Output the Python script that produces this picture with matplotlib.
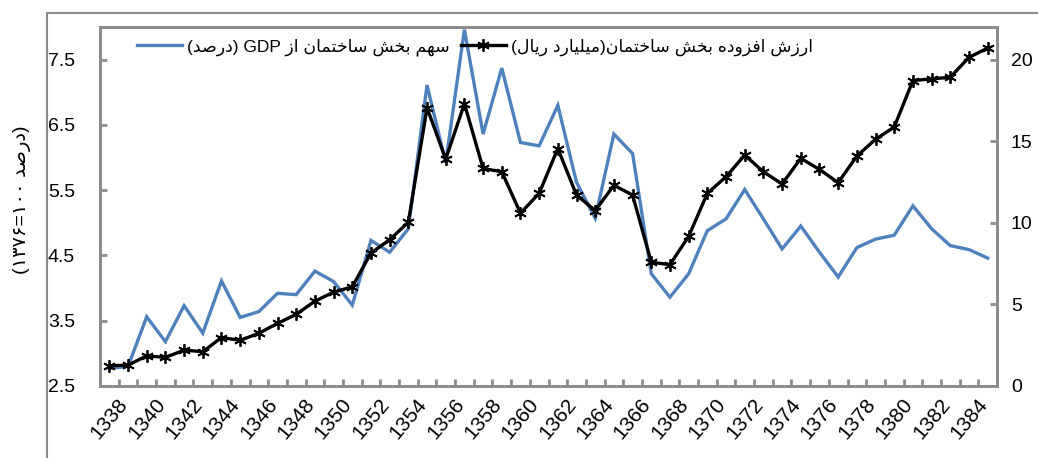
import matplotlib
matplotlib.use("Agg")
import matplotlib.pyplot as plt
from matplotlib.lines import Line2D

# ---------------- data ----------------
years = list(range(1338, 1386))
gdp_share = [2.77, 2.80, 3.56, 3.18, 3.73, 3.31, 4.11, 3.55, 3.64, 3.92,
             3.90, 4.26, 4.10, 3.74, 4.73, 4.55, 4.91, 7.11, 5.92, 7.96,
             6.36, 7.37, 6.23, 6.18, 6.80, 5.62, 5.07, 6.36, 6.06, 4.22,
             3.86, 4.22, 4.88, 5.06, 5.51, 5.06, 4.60, 4.95, 4.55, 4.17,
             4.62, 4.75, 4.81, 5.26, 4.91, 4.65, 4.59, 4.46]
value_added = [1.24, 1.28, 1.85, 1.75, 2.20, 2.10, 2.97, 2.80, 3.23, 3.84,
               4.39, 5.20, 5.75, 6.08, 8.15, 8.96, 10.04, 17.05, 13.90, 17.30,
               13.33, 13.13, 10.59, 11.81, 14.55, 11.70, 10.75, 12.30, 11.70, 7.58,
               7.44, 9.17, 11.81, 12.82, 14.15, 13.13, 12.38, 13.95, 13.27, 12.46,
               14.09, 15.12, 15.87, 18.72, 18.82, 18.92, 20.14, 20.71]
x_labels = [str(y) for y in years[::2]]
left_ticks = [2.5, 3.5, 4.5, 5.5, 6.5, 7.5]
right_ticks = [0, 5, 10, 15, 20]

label_share = "سهم بخش ساختمان از GDP (درصد)"
label_value = "ارزش افزوده بخش ساختمان(میلیارد ریال)"
label_y = "(درصد ۱۰۰=۱۳۷۶)"

# ------------- minimal Persian shaping + visual ordering -------------
FORMS = {  # isolated, final, initial, medial
    'ا': ('\uFE8D', '\uFE8E', None, None),
    'ب': ('\uFE8F', '\uFE90', '\uFE91', '\uFE92'),
    'ت': ('\uFE95', '\uFE96', '\uFE97', '\uFE98'),
    'خ': ('\uFEA5', '\uFEA6', '\uFEA7', '\uFEA8'),
    'د': ('\uFEA9', '\uFEAA', None, None),
    'ر': ('\uFEAD', '\uFEAE', None, None),
    'ز': ('\uFEAF', '\uFEB0', None, None),
    'س': ('\uFEB1', '\uFEB2', '\uFEB3', '\uFEB4'),
    'ش': ('\uFEB5', '\uFEB6', '\uFEB7', '\uFEB8'),
    'ص': ('\uFEB9', '\uFEBA', '\uFEBB', '\uFEBC'),
    'ف': ('\uFED1', '\uFED2', '\uFED3', '\uFED4'),
    'ل': ('\uFEDD', '\uFEDE', '\uFEDF', '\uFEE0'),
    'م': ('\uFEE1', '\uFEE2', '\uFEE3', '\uFEE4'),
    'ن': ('\uFEE5', '\uFEE6', '\uFEE7', '\uFEE8'),
    'ه': ('\uFEE9', '\uFEEA', '\uFEEB', '\uFEEC'),
    'و': ('\uFEED', '\uFEEE', None, None),
    'ی': ('\uFEEF', '\uFEF0', '\uFEF3', '\uFEF4'),
}


def dual(c):
    return c in FORMS and FORMS[c][2] is not None


def shape(text):
    out = []
    for i, c in enumerate(text):
        if c not in FORMS:
            out.append(c)
            continue
        prev = text[i - 1] if i > 0 else ''
        nxt = text[i + 1] if i + 1 < len(text) else ''
        jp = dual(prev)
        jn = dual(c) and nxt in FORMS
        iso, fin, ini, med = FORMS[c]
        if jp and jn:
            out.append(med)
        elif jp:
            out.append(fin)
        elif jn:
            out.append(ini)
        else:
            out.append(iso)
    return ''.join(out)


def visual(text):
    s = shape(text)
    tokens = []
    buf = ''
    for c in s:
        ltr = c.isascii() and c.isalnum() or ('\u06F0' <= c <= '\u06F9')
        if ltr:
            buf += c
        else:
            if buf:
                tokens.append(buf)
                buf = ''
            tokens.append(c)
    if buf:
        tokens.append(buf)
    mirror = {'(': ')', ')': '('}
    return ''.join(mirror.get(t, t) for t in reversed(tokens))


# ---------------- figure ----------------
plt.rcParams['font.family'] = ['Liberation Sans', 'DejaVu Sans']
fig = plt.figure(figsize=(10.38, 4.58), dpi=100)
ax = fig.add_axes([100 / 1038, 1 - 386 / 458, 897 / 1038, 359 / 458])
ax2 = ax.twinx()

xs = list(range(len(years)))
blue = '#4F81BD'
l1, = ax.plot(xs, gdp_share, color=blue, lw=2.4, solid_joinstyle='miter',
              label=visual(label_share))
l2, = ax2.plot(xs, value_added, color='black', lw=2.4, marker=(6, 2, 0),
               ms=9, mew=1.3, mec='black', label=visual(label_value))

ax.set_xlim(-0.5, len(years) - 0.5)
ax.set_ylim(2.5, 8.0)
ax2.set_ylim(0, 22)

grey = '#8C8C8C'
for a in (ax, ax2):
    for sp in a.spines.values():
        sp.set_color(grey)
        sp.set_linewidth(2)

ax.set_xticks(xs[::2])
ax.set_xticklabels(x_labels, rotation=50, ha='center', va='top', fontsize=15)
ax.set_xticks([i - 0.5 for i in range(len(years) + 1)], minor=True)
ax.tick_params(axis='x', which='major', length=0, pad=6)
ax.tick_params(axis='x', which='minor', direction='in', length=5, width=2,
               color=grey)

ax.set_yticks(left_ticks)
ax.set_yticklabels([f"{v:.1f}" for v in left_ticks], fontsize=14)
ax.tick_params(axis='y', direction='in', length=5, width=2, color=grey, pad=18)

ax2.set_yticks(right_ticks)
ax2.set_yticklabels([str(v) for v in right_ticks], fontsize=14)
ax2.tick_params(axis='y', direction='in', length=5, width=2, color=grey, pad=10)

leg = ax2.legend(handles=[l1, l2], loc='center', bbox_to_anchor=(0.418, 0.944),
                 ncol=2, frameon=False, fontsize=12.5, handlelength=2.6,
                 handletextpad=0.3, columnspacing=0.6)

fig.text(22 / 1038, 0.563, visual(label_y), rotation=90, ha='center',
         va='center', fontsize=14)

# outer chart frame
fig.add_artist(Line2D([47 / 1038, 47 / 1038], [0, 1 - 13 / 458],
                      transform=fig.transFigure, color=grey, lw=1.5))
fig.add_artist(Line2D([47 / 1038, 1], [1 - 13 / 458, 1 - 13 / 458],
                      transform=fig.transFigure, color=grey, lw=1.5))

fig.savefig('out.png', dpi=100)
